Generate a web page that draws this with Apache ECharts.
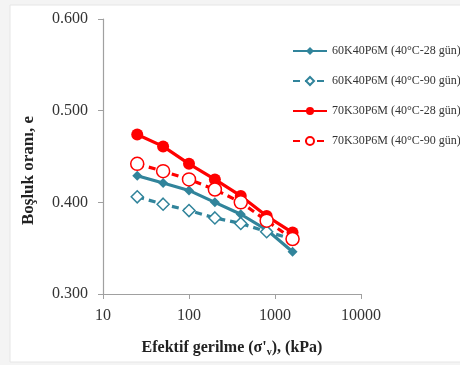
<!DOCTYPE html>
<html><head><meta charset="utf-8">
<script src="https://cdn.jsdelivr.net/npm/echarts@6/dist/echarts.min.js"></script>
<style>html,body{margin:0;padding:0;background:#fff}#c{width:460px;height:365px}</style>
</head><body><div id="c"></div>
<script>
const stress = [25, 50, 100, 200, 400, 800, 1600];
const s60_28 = [0.429, 0.421, 0.413, 0.400, 0.387, 0.370, 0.346];
const s60_90 = [0.406, 0.398, 0.391, 0.383, 0.377, 0.368, 0.360];
const s70_28 = [0.474, 0.461, 0.442, 0.425, 0.407, 0.385, 0.367];
const s70_90 = [0.442, 0.434, 0.425, 0.414, 0.400, 0.380, 0.360];
const names = ['60K40P6M (40°C-28 gün)', '60K40P6M (40°C-90 gün)', '70K30P6M (40°C-28 gün)', '70K30P6M (40°C-90 gün)'];
const xTicks = ['10', '100', '1000', '10000'];
const yTicks = ['0.300', '0.400', '0.500', '0.600'];

const BLUE = '#31849b', RED = '#ff0000';
const pts = arr => stress.map((x, i) => [x, arr[i]]);
const chart = echarts.init(document.getElementById('c'), null, {renderer: 'canvas'});
const font = '"Liberation Serif", "Times New Roman", serif';
chart.setOption({
  animation: false,
  backgroundColor: '#f4f4f4',
  graphic: [{type: 'rect', z: -10, shape: {x: 10, y: 5, width: 452, height: 357}, style: {fill: '#fff', stroke: '#e6e6e6'}}],
  grid: {left: 103, right: 99, top: 19, bottom: 71},
  legend: {
    orient: 'vertical', left: 292, top: 45, padding: 0, itemWidth: 34, itemHeight: 10, itemGap: 18,
    textStyle: {fontFamily: font, fontSize: 12, color: '#333'},
    data: names
  },
  xAxis: {
    type: 'log', logBase: 10, min: 10, max: 10000,
    axisLine: {lineStyle: {color: '#a0a0a0', width: 1.2}},
    axisTick: {show: true, length: 5, lineStyle: {color: '#a0a0a0'}},
    minorTick: {show: false}, splitLine: {show: false},
    axisLabel: {fontFamily: font, fontSize: 16, color: '#333', margin: 14,
      formatter: v => xTicks.find(t => Math.abs(parseFloat(t) - v) < 1e-6 * v) || String(Math.round(v))},
    name: '{a|Efektif gerilme (σ\'}{s|v}{a|), (kPa)}', nameLocation: 'middle', nameGap: 44,
    nameTextStyle: {rich: {a: {fontFamily: font, fontSize: 16, fontWeight: 'bold', color: '#222'},
                           s: {fontFamily: font, fontSize: 10, fontWeight: 'bold', color: '#222', verticalAlign: 'bottom', padding: [9, 0, 0, 0]}}}
  },
  yAxis: {
    type: 'value', min: 0.3, max: 0.6, interval: 0.1,
    axisLine: {show: true, lineStyle: {color: '#a0a0a0', width: 1.2}},
    axisTick: {show: true, length: 5, lineStyle: {color: '#a0a0a0'}},
    splitLine: {show: false},
    axisLabel: {fontFamily: font, fontSize: 16, color: '#333', margin: 15,
      formatter: v => yTicks.find(t => Math.abs(parseFloat(t) - v) < 1e-6) || v.toFixed(3)},
    name: 'Boşluk oranı, e', nameLocation: 'middle', nameGap: 66,
    nameTextStyle: {fontFamily: font, fontSize: 17, fontWeight: 'bold', color: '#222', padding: [0, 28, 0, 0]}
  },
  series: [
    {name: names[0], type: 'line', data: pts(s60_28), symbol: 'diamond', symbolSize: 10,
     lineStyle: {color: BLUE, width: 3.2}, itemStyle: {color: BLUE}},
    {name: names[1], type: 'line', data: pts(s60_90), symbol: 'diamond', symbolSize: 12,
     lineStyle: {color: BLUE, width: 3.2, type: [7, 5]}, itemStyle: {color: '#fff', borderColor: BLUE, borderWidth: 1.5}},
    {name: names[2], type: 'line', data: pts(s70_28), symbol: 'circle', symbolSize: 12,
     lineStyle: {color: RED, width: 3.2}, itemStyle: {color: RED}},
    {name: names[3], type: 'line', data: pts(s70_90), symbol: 'circle', symbolSize: 13,
     lineStyle: {color: RED, width: 3.2, type: [7, 5]}, itemStyle: {color: '#fff', borderColor: RED, borderWidth: 1.5}}
  ]
});
</script></body></html>
